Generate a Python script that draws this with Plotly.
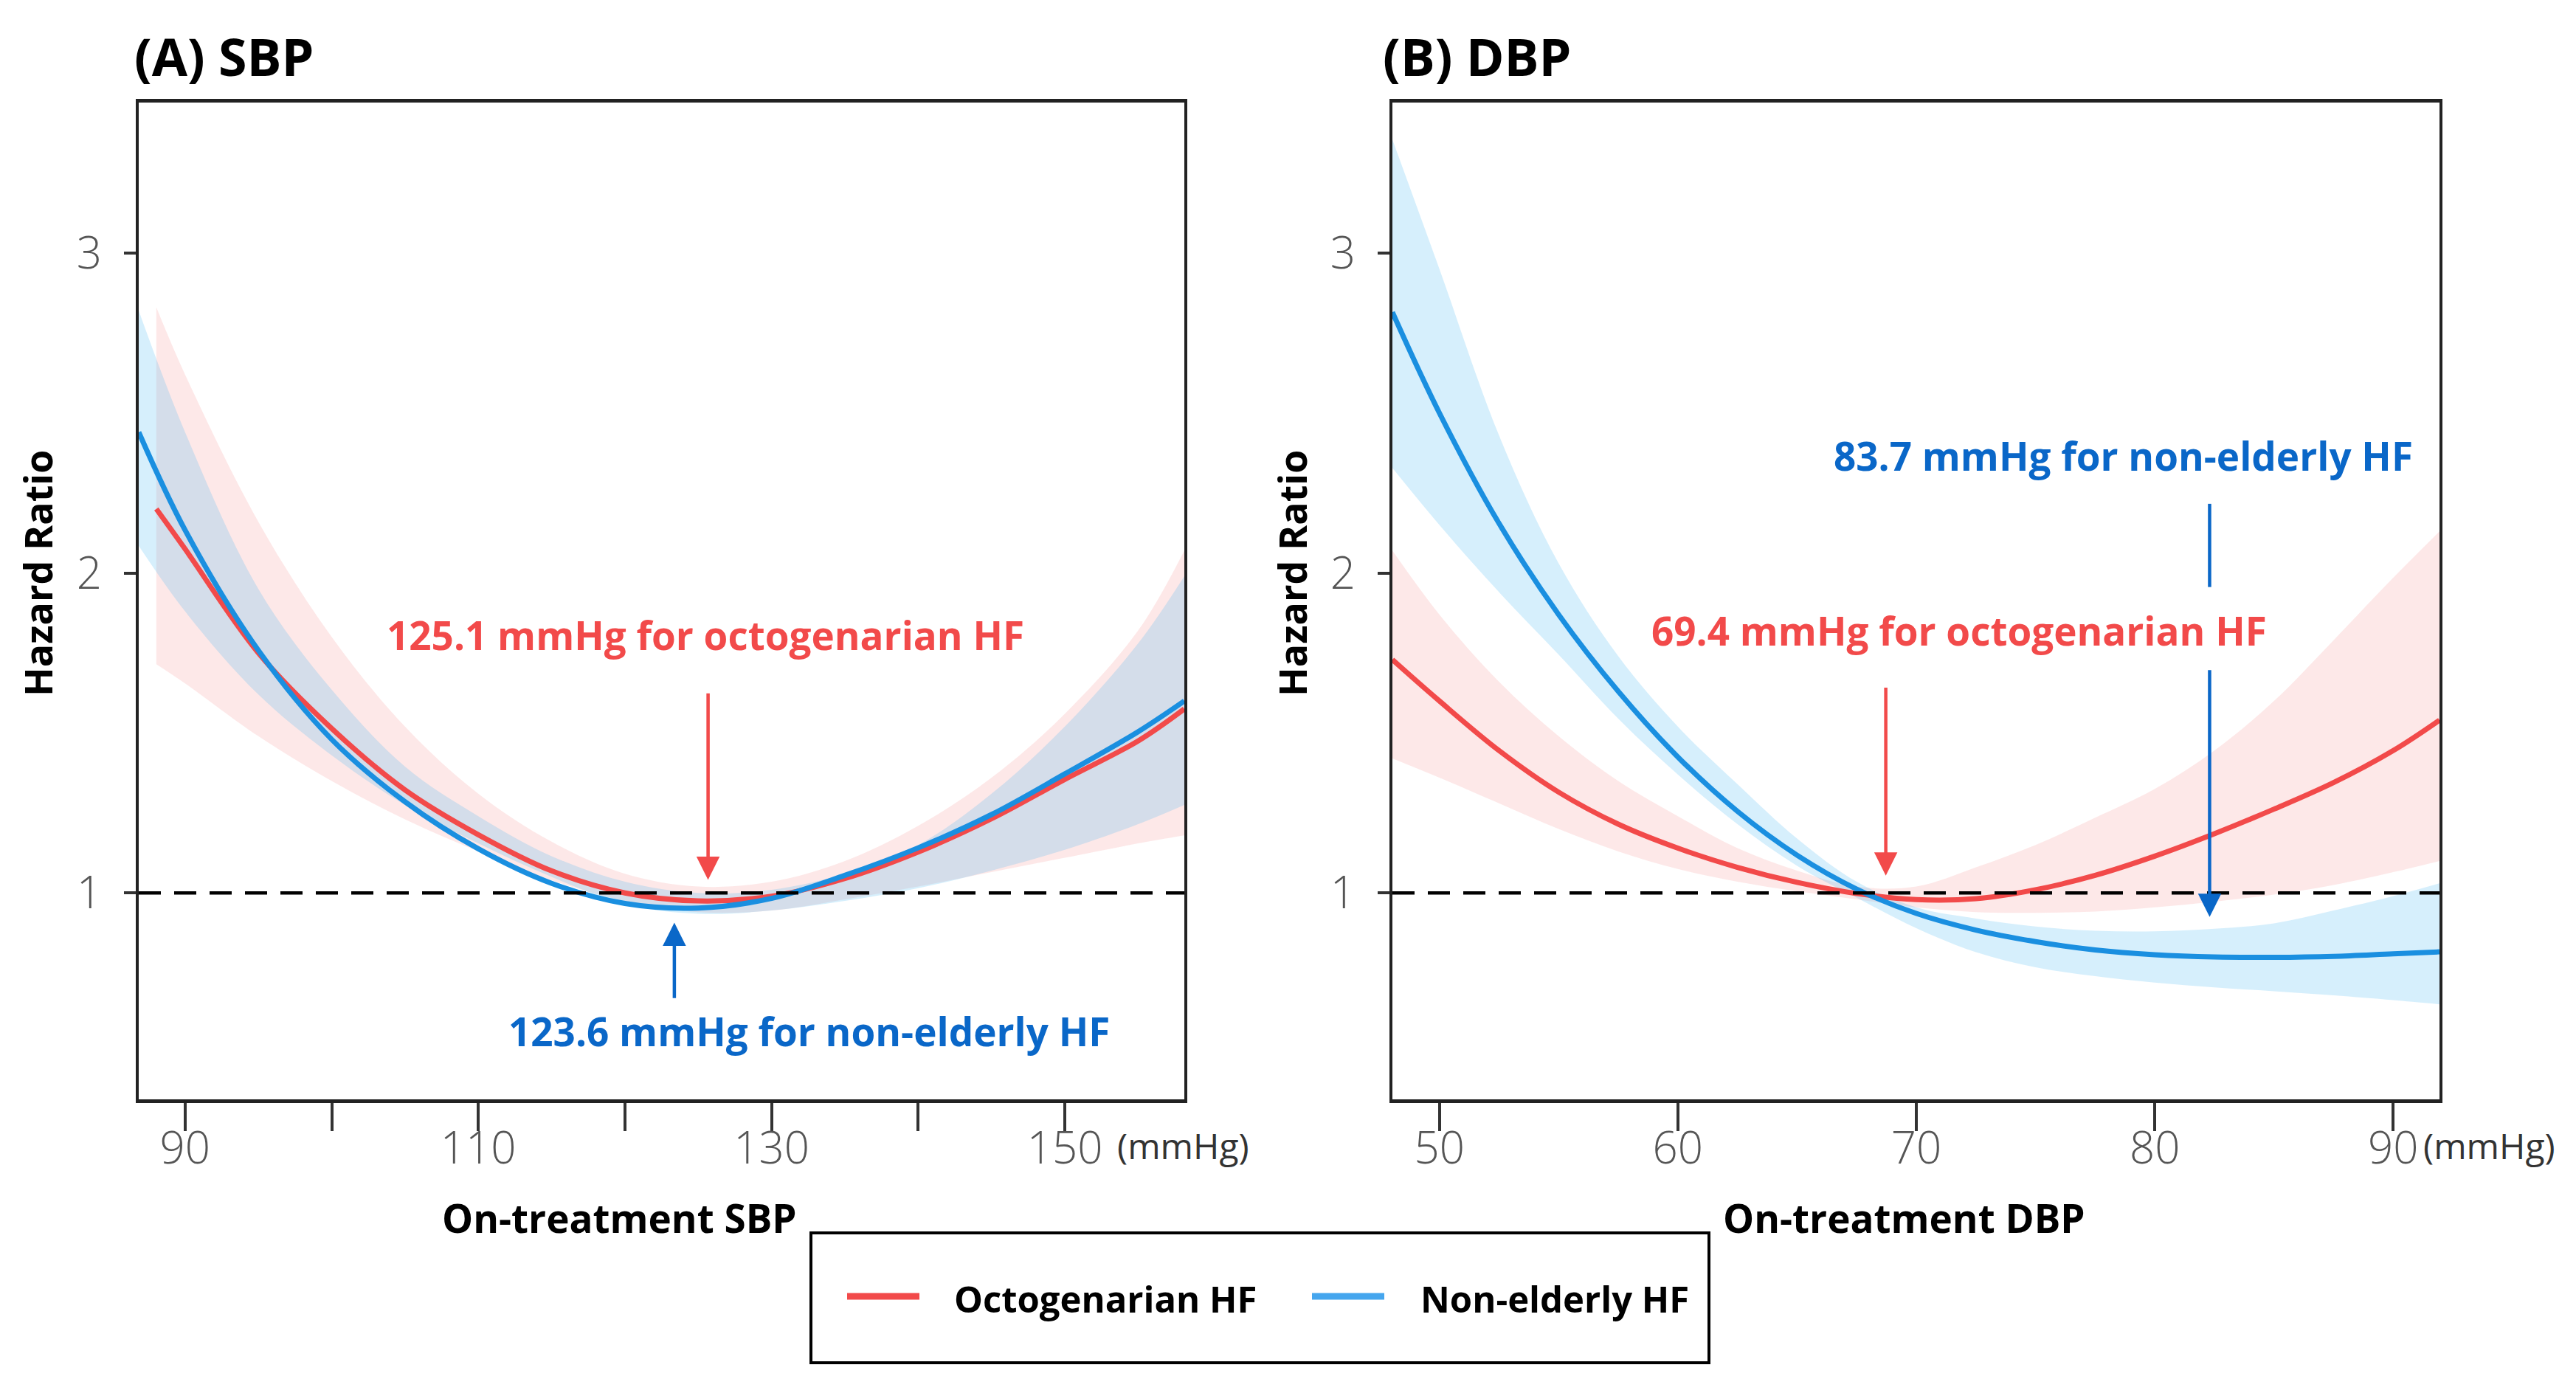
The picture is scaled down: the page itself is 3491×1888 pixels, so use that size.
import plotly.graph_objects as go

# ---------------- data ----------------
# Panel A: SBP
sbp_x_red = [88.04, 90, 95, 100, 105, 110, 115, 120, 125, 130, 135, 140, 145, 150, 155, 158.15]
sbp_hr_red = [2.20, 2.075, 1.75, 1.514, 1.322, 1.182, 1.069, 1.0, 0.975, 0.99, 1.045, 1.128, 1.232, 1.355, 1.475, 1.575]
sbp_up_red = [2.83, 2.62, 2.16, 1.80, 1.52, 1.31, 1.16, 1.06, 1.02, 1.035, 1.10, 1.21, 1.36, 1.56, 1.82, 2.07]
sbp_lo_red = [1.715, 1.655, 1.49, 1.35, 1.23, 1.13, 1.04, 0.975, 0.94, 0.945, 0.98, 1.02, 1.065, 1.11, 1.155, 1.18]

sbp_x_blue = [86.84, 90, 95, 100, 105, 110, 115, 120, 125, 130, 135, 140, 145, 150, 155, 158.15]
sbp_hr_blue = [2.44, 2.134, 1.758, 1.48, 1.285, 1.138, 1.03, 0.967, 0.953, 0.983, 1.055, 1.141, 1.245, 1.372, 1.504, 1.60]
sbp_up_blue = [2.82, 2.44, 1.95, 1.635, 1.395, 1.24, 1.115, 1.035, 1.0, 1.01, 1.06, 1.15, 1.31, 1.52, 1.78, 1.99]
sbp_lo_blue = [2.085, 1.88, 1.62, 1.43, 1.275, 1.155, 1.05, 0.965, 0.935, 0.945, 0.975, 1.015, 1.07, 1.135, 1.215, 1.275]

# Panel B: DBP
dbp_x = [48.03, 50, 52.5, 55, 57.5, 60, 62.5, 65, 67.5, 70, 72.5, 75, 77.5, 80, 82.5, 85, 87.5, 90, 91.94]
dbp_hr_red = [1.729, 1.60, 1.445, 1.315, 1.215, 1.14, 1.08, 1.033, 0.998, 0.979, 0.982, 1.01, 1.055, 1.115, 1.185, 1.262, 1.345, 1.445, 1.54]
dbp_up_red = [2.07, 1.87, 1.66, 1.49, 1.35, 1.24, 1.14, 1.07, 1.02, 1.02, 1.08, 1.15, 1.235, 1.325, 1.445, 1.60, 1.79, 1.985, 2.13]
dbp_lo_red = [1.42, 1.36, 1.28, 1.20, 1.13, 1.075, 1.035, 1.005, 0.98, 0.955, 0.94, 0.938, 0.942, 0.955, 0.973, 0.995, 1.025, 1.065, 1.10]
dbp_hr_blue = [2.815, 2.50, 2.155, 1.87, 1.63, 1.425, 1.255, 1.118, 1.012, 0.936, 0.884, 0.848, 0.822, 0.807, 0.800, 0.799, 0.802, 0.810, 0.816]
dbp_up_blue = [3.354, 2.95, 2.43, 2.03, 1.74, 1.52, 1.34, 1.17, 1.035, 0.955, 0.92, 0.895, 0.882, 0.88, 0.888, 0.905, 0.945, 0.99, 1.03]
dbp_lo_blue = [2.328, 2.15, 1.94, 1.745, 1.545, 1.37, 1.215, 1.085, 0.985, 0.89, 0.815, 0.768, 0.74, 0.72, 0.705, 0.693, 0.68, 0.665, 0.652]

series_names = ["Octogenarian HF", "Non-elderly HF"]
sbp_ticks = [90, 100, 110, 120, 130, 140, 150]
sbp_ticktext = ["90", "", "110", "", "130", "", "150"]
dbp_ticks = [50, 60, 70, 80, 90]
dbp_ticktext = ["50", "60", "70", "80", "90"]
hr_ticks = [1, 2, 3]

# optimal-point markers: (x position of arrow, tail HR, tip HR)
sbp_red_arrow = (125.67, 1.627, 1.041)
sbp_blue_arrow = (123.37, 0.668, 0.907)
dbp_red_arrow = (68.72, 1.645, 1.054)
dbp_blue_arrow_top = (82.3, 2.216, 1.956)
dbp_blue_arrow = (82.3, 1.70, 0.925)

# ---------------- style ----------------
W, H = 3491, 1888
OFF = 8  # page body margin compensation (px)
RED = "#F24A4A"
BLUE = "#1A8FE0"
BLUE_TXT = "#0A67C8"
RED_FILL = "rgba(245,110,110,0.16)"
BLUE_FILL = "rgba(70,180,240,0.22)"
FONT = "Open Sans"
LW = 7


def px(x):
    return (x - OFF) / W


def py(y):
    return 1 - (y - OFF) / H


fig = go.Figure()


def band(x, lo, up, fill, xa, ya):
    fig.add_trace(go.Scatter(x=x, y=up, mode="lines", line=dict(width=0, shape="spline"),
                             hoverinfo="skip", showlegend=False, xaxis=xa, yaxis=ya))
    fig.add_trace(go.Scatter(x=x, y=lo, mode="lines", line=dict(width=0, shape="spline"),
                             fill="tonexty", fillcolor=fill, hoverinfo="skip",
                             showlegend=False, xaxis=xa, yaxis=ya))


def curve(x, y, color, name, xa, ya):
    fig.add_trace(go.Scatter(x=x, y=y, mode="lines", name=name,
                             line=dict(color=color, width=LW, shape="spline"),
                             showlegend=False, xaxis=xa, yaxis=ya))


# Panel A
band(sbp_x_red, sbp_lo_red, sbp_up_red, RED_FILL, "x", "y")
band(sbp_x_blue, sbp_lo_blue, sbp_up_blue, BLUE_FILL, "x", "y")
curve(sbp_x_red, sbp_hr_red, RED, series_names[0], "x", "y")
curve(sbp_x_blue, sbp_hr_blue, BLUE, series_names[1], "x", "y")
# Panel B
band(dbp_x, dbp_lo_red, dbp_up_red, RED_FILL, "x2", "y2")
band(dbp_x, dbp_lo_blue, dbp_up_blue, BLUE_FILL, "x2", "y2")
curve(dbp_x, dbp_hr_red, RED, series_names[0], "x2", "y2")
curve(dbp_x, dbp_hr_blue, BLUE, series_names[1], "x2", "y2")

# ---------------- axes ----------------
tickfont = dict(family=FONT, size=60, color="#555555", weight=300)
common_x = dict(ticks="outside", ticklen=38, tickwidth=4, tickcolor="#333333",
                showline=True, linecolor="#222222", linewidth=5, mirror=True,
                showgrid=False, zeroline=False, tickfont=tickfont, ticklabelstandoff=-28,
                fixedrange=True)
common_y = dict(ticks="outside", ticklen=16, tickwidth=4, tickcolor="#333333",
                showline=True, linecolor="#222222", linewidth=4, mirror=True,
                showgrid=False, zeroline=False, tickfont=tickfont, ticklabelstandoff=18,
                tickvals=hr_ticks, ticktext=[str(v) for v in hr_ticks], fixedrange=True)

y_dom = [py(1490), py(139)]
fig.update_layout(
    width=W, height=H, autosize=False,
    margin=dict(l=0, r=0, t=0, b=0),
    paper_bgcolor="white", plot_bgcolor="white",
    showlegend=False,
    xaxis=dict(domain=[px(188), px(1605)], range=[86.84, 158.15], anchor="y",
               tickvals=sbp_ticks, ticktext=sbp_ticktext, **common_x),
    yaxis=dict(domain=y_dom, range=[0.355, 3.47], anchor="x", **common_y),
    xaxis2=dict(domain=[px(1887), px(3306)], range=[48.03, 91.94], anchor="y2",
                tickvals=dbp_ticks, ticktext=dbp_ticktext, **common_x),
    yaxis2=dict(domain=y_dom, range=[0.355, 3.47], anchor="x2", **common_y),
)

# reference line HR = 1
for xr, yr in (("x domain", "y"), ("x2 domain", "y2")):
    fig.add_shape(type="line", xref=xr, yref=yr, x0=0, x1=1, y0=1, y1=1,
                  line=dict(color="black", width=4.5, dash="30px,18px"), layer="above")


# ---------------- arrows ----------------
def arrow(spec, color, xr, yr):
    x, tail, tip = spec
    fig.add_annotation(x=x, y=tip, ax=x, ay=tail, xref=xr, yref=yr, axref=xr, ayref=yr,
                       text="", showarrow=True, arrowhead=2, arrowsize=1.4,
                       arrowwidth=4.5, arrowcolor=color, standoff=0, startstandoff=0)


arrow(sbp_red_arrow, RED, "x", "y")
arrow(sbp_blue_arrow, BLUE_TXT, "x", "y")
arrow(dbp_red_arrow, RED, "x2", "y2")
arrow(dbp_blue_arrow, BLUE_TXT, "x2", "y2")
fig.add_shape(type="line", xref="x2", yref="y2", x0=dbp_blue_arrow_top[0], x1=dbp_blue_arrow_top[0],
              y0=dbp_blue_arrow_top[1], y1=dbp_blue_arrow_top[2],
              line=dict(color=BLUE_TXT, width=4.5))

lab_font = dict(family=FONT, size=53, weight="bold")
fig.add_annotation(x=125.5, y=1.807, xref="x", yref="y", text="125.1 mmHg for octogenarian HF",
                   showarrow=False, font=dict(color=RED, **lab_font))
fig.add_annotation(x=132.55, y=0.568, xref="x", yref="y", text="123.6 mmHg for non-elderly HF",
                   showarrow=False, font=dict(color=BLUE_TXT, **lab_font))
fig.add_annotation(x=71.8, y=1.82, xref="x2", yref="y2", text="69.4 mmHg for octogenarian HF",
                   showarrow=False, font=dict(color=RED, **lab_font))
fig.add_annotation(x=78.67, y=2.367, xref="x2", yref="y2", text="83.7 mmHg for non-elderly HF",
                   showarrow=False, font=dict(color=BLUE_TXT, **lab_font))


# ---------------- titles / axis labels ----------------
def ptext(x, y, text, size, color="black", bold=True, xanchor="center", angle=0):
    fig.add_annotation(x=px(x), y=py(y), xref="paper", yref="paper", text=text,
                       showarrow=False, xanchor=xanchor, yanchor="middle", textangle=angle,
                       font=dict(family=FONT, size=size, color=color,
                                 weight="bold" if bold else "normal"))


ptext(180, 76, "(A) SBP", 70, xanchor="left")
ptext(1872, 76, "(B) DBP", 70, xanchor="left")
ptext(839, 1650, "On-treatment SBP", 53)
ptext(2580, 1650, "On-treatment DBP", 53)
ptext(50, 777, "Hazard Ratio", 52, angle=-90)
ptext(1750, 777, "Hazard Ratio", 52, angle=-90)
ptext(1512, 1552, "(mmHg)", 48, color="#333333", bold=False, xanchor="left")
ptext(3282, 1552, "(mmHg)", 48, color="#333333", bold=False, xanchor="left")

# ---------------- legend box ----------------
fig.add_shape(type="rect", xref="paper", yref="paper", x0=px(1099), x1=px(2316),
              y0=py(1847), y1=py(1671), line=dict(color="black", width=4))
fig.add_shape(type="line", xref="paper", yref="paper", x0=px(1148), x1=px(1246),
              y0=py(1757), y1=py(1757), line=dict(color=RED, width=9))
fig.add_shape(type="line", xref="paper", yref="paper", x0=px(1778), x1=px(1876),
              y0=py(1757), y1=py(1757), line=dict(color="#45A6EE", width=9))
ptext(1291, 1760, series_names[0], 49, xanchor="left")
ptext(1923, 1760, series_names[1], 49, xanchor="left")

fig.write_html("out.html")
